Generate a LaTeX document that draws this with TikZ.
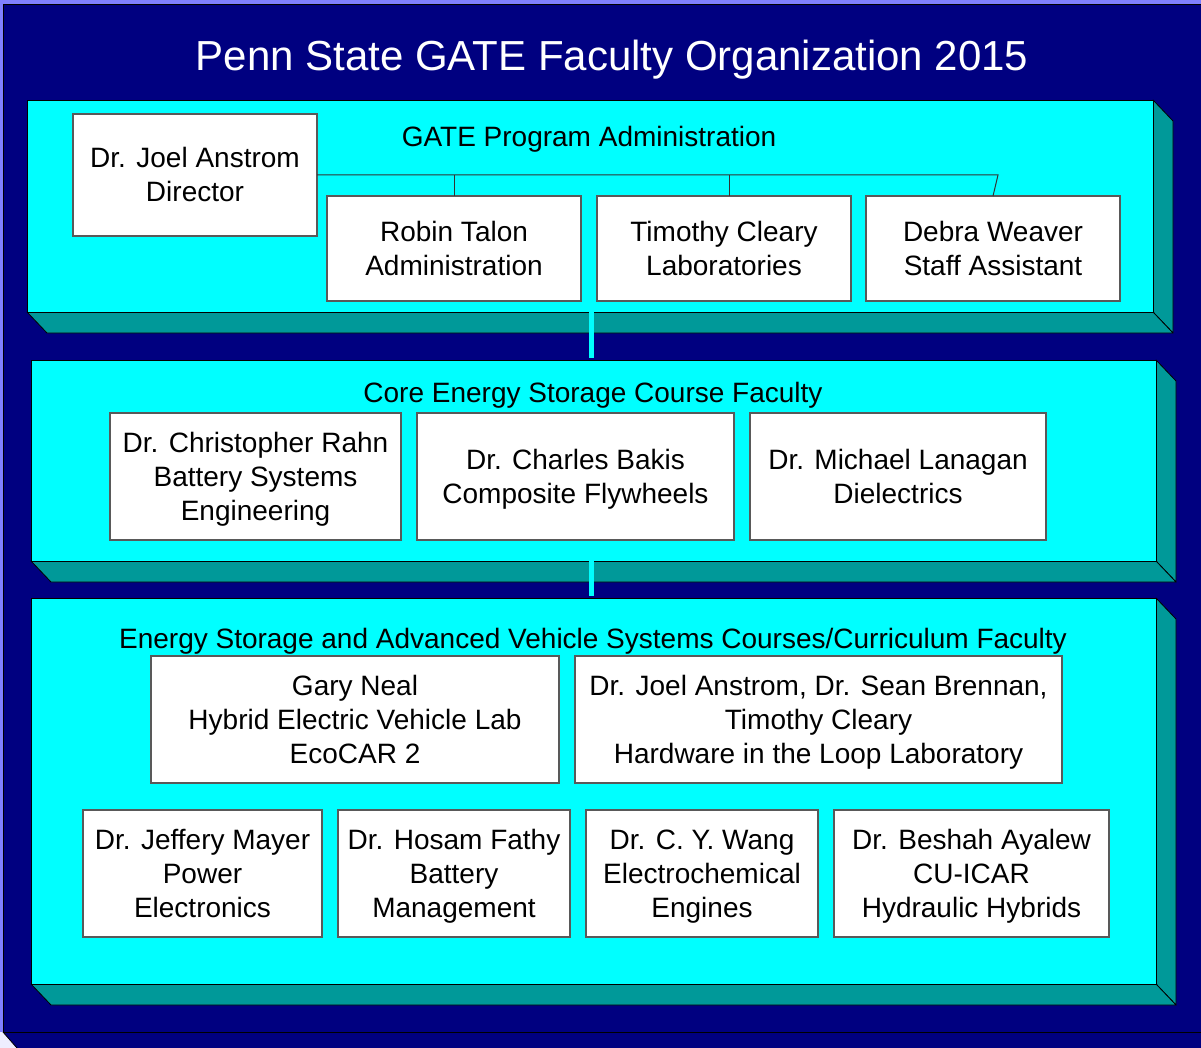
\documentclass[tikz,border=0pt]{standalone}
\usepackage{fontspec}
\setmainfont{Liberation Sans}
\usetikzlibrary{calc}
\definecolor{navy}{HTML}{000080}
\definecolor{cyanf}{HTML}{00FFFF}
\definecolor{tealf}{HTML}{009999}
\definecolor{lav}{HTML}{8080FF}
\definecolor{pale}{HTML}{EEEEFF}
\newcommand\topstrut{\rule{0pt}{28pt}}
\newcommand\botstrut{\rule[-8pt]{0pt}{8pt}}
\tikzset{
 panel/.style={fill=cyanf, draw=black, line width=0.8pt, inner sep=0pt, outer sep=0pt, anchor=north west},
 face/.style={fill=tealf, draw=black, line width=0.8pt, line join=round},
 ob/.style={fill=white, draw=black!65, line width=1.2pt, inner sep=0pt, outer sep=0pt, anchor=north west, align=center, font=\fontsize{28}{34}\selectfont},
 ptitle/.style={anchor=base, font=\fontsize{28}{34}\selectfont, inner sep=0pt},
 orgline/.style={draw=black!80, line width=1pt},
 bar/.style={draw=cyanf, line width=5pt},
}
\newcommand\mypanel[5]{%
 \draw[face] (#4,#3) -- (#4+20,#3+21) -- (#4+20,#5+21) -- (#4,#5) -- cycle;
 \draw[face] (#2,#5) -- (#2+20,#5+21) -- (#4+20,#5+21) -- (#4,#5) -- cycle;
 \node[panel, minimum width={(#4-#2)*1pt}, minimum height={(#5-#3)*1pt}] (#1) at (#2,#3) {};
}
\newcommand\obox[6]{%
 \node[ob, minimum width={(#4-#2)*1pt}, minimum height={(#5-#3)*1pt}] (#1) at (#2,#3) {\topstrut#6\botstrut};
}
\begin{document}
\begin{tikzpicture}[x=1pt,y=-1pt]
\useasboundingbox (0,0) rectangle (1201,1048);
% background
\fill[lav] (0,0) rectangle (1201,1048);
\fill[pale] (0,1032) -- (3,1032) -- (17,1048) -- (0,1048) -- cycle;
\fill[navy] (3,1032) -- (17,1048) -- (1215,1048) -- (1215,1032) -- cycle;
\draw[black, line width=0.8pt] (3,1032) -- (17,1048);
\fill[navy, draw=black, line width=1pt] (3,5) rectangle (1215,1032);
% title
\node[anchor=base, text=white, font=\fontsize{42}{50}\selectfont, inner sep=0pt] (title) at (612,71) {Penn State GATE Faculty Organization 2015};
% panels
\mypanel{p1}{27}{100}{1153}{312}
\mypanel{p2}{31}{360}{1156}{561}
\mypanel{p3}{31}{598}{1156}{984}
% connectors between panels
\coordinate (c1) at (591.5,300);
\coordinate (c2) at (591.5,550);
\draw[bar, shorten >=2pt] (c1) -- (c1 |- p2.north);
\draw[bar, shorten >=2pt] (c2) -- (c2 |- p3.north);
% panel titles
\node[ptitle] (t1) at (589,147) {GATE Program Administration};
\node[ptitle] (t2) at (593,402) {Core Energy Storage Course Faculty};
\node[ptitle] (t3) at (593,648) {Energy Storage and Advanced Vehicle Systems Courses/Curriculum Faculty};
% panel 1 boxes
\obox{dir}{73}{114}{317}{236}{Dr. Joel Anstrom\\Director}
\obox{robin}{327}{196}{581}{301}{Robin Talon\\Administration}
\obox{tim}{597}{196}{851}{301}{Timothy Cleary\\Laboratories}
\obox{debra}{866}{196}{1120}{301}{Debra Weaver\\Staff Assistant}
\coordinate (j) at (998,175);
\draw[orgline] (dir.east) -- (j) -- (debra.north);
\draw[orgline] (robin.north |- dir.east) -- (robin.north);
\draw[orgline] ([xshift=5pt]tim.north |- dir.east) -- ([xshift=5pt]tim.north);
% panel 2 boxes
\obox{rahn}{110}{413}{401}{540}{Dr. Christopher Rahn\\Battery Systems\\Engineering}
\obox{bakis}{417}{413}{734}{540}{Dr. Charles Bakis\\Composite Flywheels}
\obox{lanagan}{750}{413}{1046}{540}{Dr. Michael Lanagan\\Dielectrics}
% panel 3 boxes
\obox{neal}{151}{656}{559}{783}{Gary Neal\\Hybrid Electric Vehicle Lab\\EcoCAR 2}
\obox{hil}{575}{656}{1062}{783}{Dr. Joel Anstrom, Dr. Sean Brennan,\\Timothy Cleary\\Hardware in the Loop Laboratory}
\obox{mayer}{83}{810}{322}{937}{Dr. Jeffery Mayer\\Power\\Electronics}
\obox{fathy}{338}{810}{570}{937}{Dr. Hosam Fathy\\Battery\\Management}
\obox{wang}{586}{810}{818}{937}{Dr. C. Y. Wang\\Electrochemical\\Engines}
\obox{ayalew}{834}{810}{1109}{937}{Dr. Beshah Ayalew\\CU-ICAR\\Hydraulic Hybrids}
\end{tikzpicture}
\end{document}
